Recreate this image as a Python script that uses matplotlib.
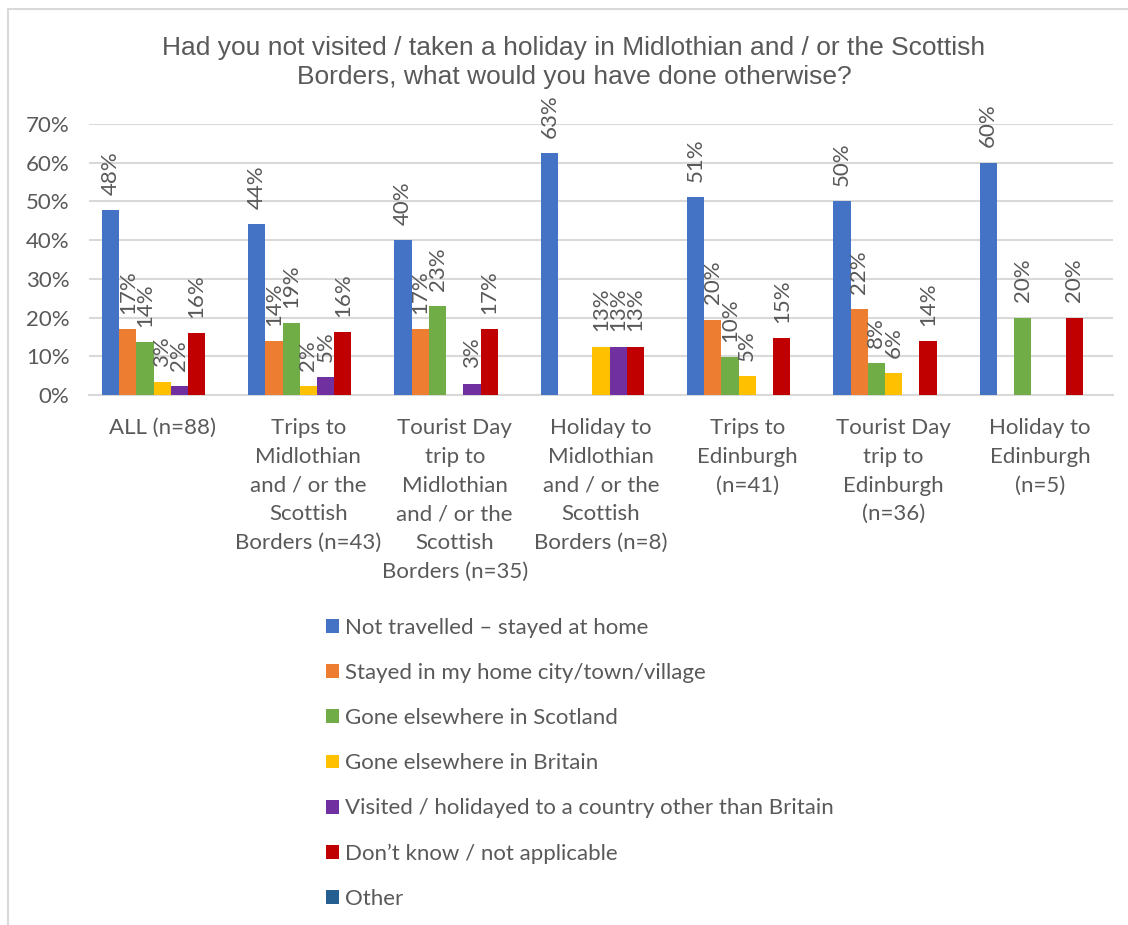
import numpy as np
import matplotlib
matplotlib.use('Agg')
import matplotlib.pyplot as plt
from matplotlib.lines import Line2D
from matplotlib import rcParams

rcParams.update({
    "font.family": ['Lato', 'DejaVu Sans'],
    "font.size": 16,
    'text.color': '#595959',
})

categories = ['ALL (n=88)',
              'Trips to\nMidlothian\nand / or the\nScottish\nBorders (n=43)',
              'Tourist Day\ntrip to\nMidlothian\nand / or the\nScottish\nBorders (n=35)',
              'Holiday to\nMidlothian\nand / or the\nScottish\nBorders (n=8)',
              'Trips to\nEdinburgh\n(n=41)',
              'Tourist Day\ntrip to\nEdinburgh\n(n=36)',
              'Holiday to\nEdinburgh\n(n=5)']

series_names = ['Not travelled \u2013 stayed at home',
                'Stayed in my home city/town/village',
                'Gone elsewhere in Scotland',
                'Gone elsewhere in Britain',
                'Visited / holidayed to a country other than Britain',
                'Don\u2019t know / not applicable',
                'Other']

stayed_home = [0.477, 0.442, 0.400, 0.625, 0.512, 0.500, 0.600]
home_city = [0.170, 0.140, 0.171, 0.0, 0.195, 0.222, 0.0]
scotland = [0.136, 0.186, 0.229, 0.0, 0.098, 0.083, 0.200]
britain = [0.034, 0.023, 0.0, 0.125, 0.049, 0.056, 0.0]
abroad = [0.023, 0.047, 0.029, 0.125, 0.0, 0.0, 0.0]
dont_know = [0.159, 0.163, 0.171, 0.125, 0.146, 0.139, 0.200]
other = [0, 0, 0, 0, 0, 0, 0]

colors = ['#4472C4', '#ED7D31', '#70AD47', '#FFC000', '#7030A0', '#C00000', '#255E91']
grey = '#595959'
grid_col = '#D9D9D9'


def main():
    all_series = [stayed_home, home_city, scotland, britain, abroad, dont_know, other]
    fig = plt.figure(figsize=(11.28, 9.25), dpi=100)
    ax = fig.add_axes([89 / 1128, 1 - 395 / 925, 1024 / 1128, 271 / 925])

    x = np.arange(len(categories))
    n = len(all_series)
    w = 1 / (n + 1.5)
    handles = []
    for i, vals in enumerate(all_series):
        pos = x + (i - (n - 1) / 2) * w
        bars = ax.bar(pos, vals, w, color=colors[i], zorder=3, label=series_names[i])
        handles.append(bars)
        for p, v in zip(pos, vals):
            if v > 0:
                # excel rounds half up
                ax.annotate(f'{int(v * 100 + 0.5)}%', (p, v), xytext=(0, 11),
                            textcoords='offset points', rotation=90, ha='center',
                            va='bottom', fontsize=16, color=grey)

    ax.set_ylim(0, 0.7)
    ax.set_xlim(-0.5, len(categories) - 0.5)
    ax.set_yticks(np.arange(0, 0.71, 0.1))
    ax.set_yticklabels([f'{t}%' for t in range(0, 71, 10)])
    ax.set_xticks(x)
    ax.set_xticklabels(categories)
    for t in ax.get_xticklabels():
        t.set_linespacing(1.55)
        t.set_verticalalignment('top')
    ax.tick_params(axis='both', length=0, colors=grey, labelsize=16)
    ax.tick_params(axis='x', pad=16.5)
    ax.tick_params(axis='y', pad=14)
    ax.grid(True, axis='y', color=grid_col, linewidth=1.5, zorder=0)
    for s in ['top', 'right', 'left']:
        ax.spines[s].set_visible(False)
    ax.spines['bottom'].set_color(grid_col)
    ax.spines['bottom'].set_linewidth(1.5)

    fig.text(574 / 1128, 1 - 36 / 925,
             'Had you not visited / taken a holiday in Midlothian and / or the Scottish\n'
             'Borders, what would you have done otherwise?',
             ha='center', va='top', fontsize=19, color=grey, family=['Liberation Sans'],
             linespacing=1.27)

    fig.legend(handles=handles, labels=series_names, loc='upper left',
               bbox_to_anchor=(326 / 1128, 1 - 618 / 925), frameon=False,
               handlelength=0.58, handleheight=0.58, handletextpad=0.28,
               labelspacing=1.13, borderpad=0, borderaxespad=0, fontsize=16,
               labelcolor=grey)

    # chart frame
    fig.add_artist(Line2D([8 / 1128, 8 / 1128, 1], [0, 1 - 9 / 925, 1 - 9 / 925],
                          transform=fig.transFigure, color=grid_col, linewidth=1.5))

    fig.savefig('out.png', dpi=100)


if __name__ == '__main__':
    main()
